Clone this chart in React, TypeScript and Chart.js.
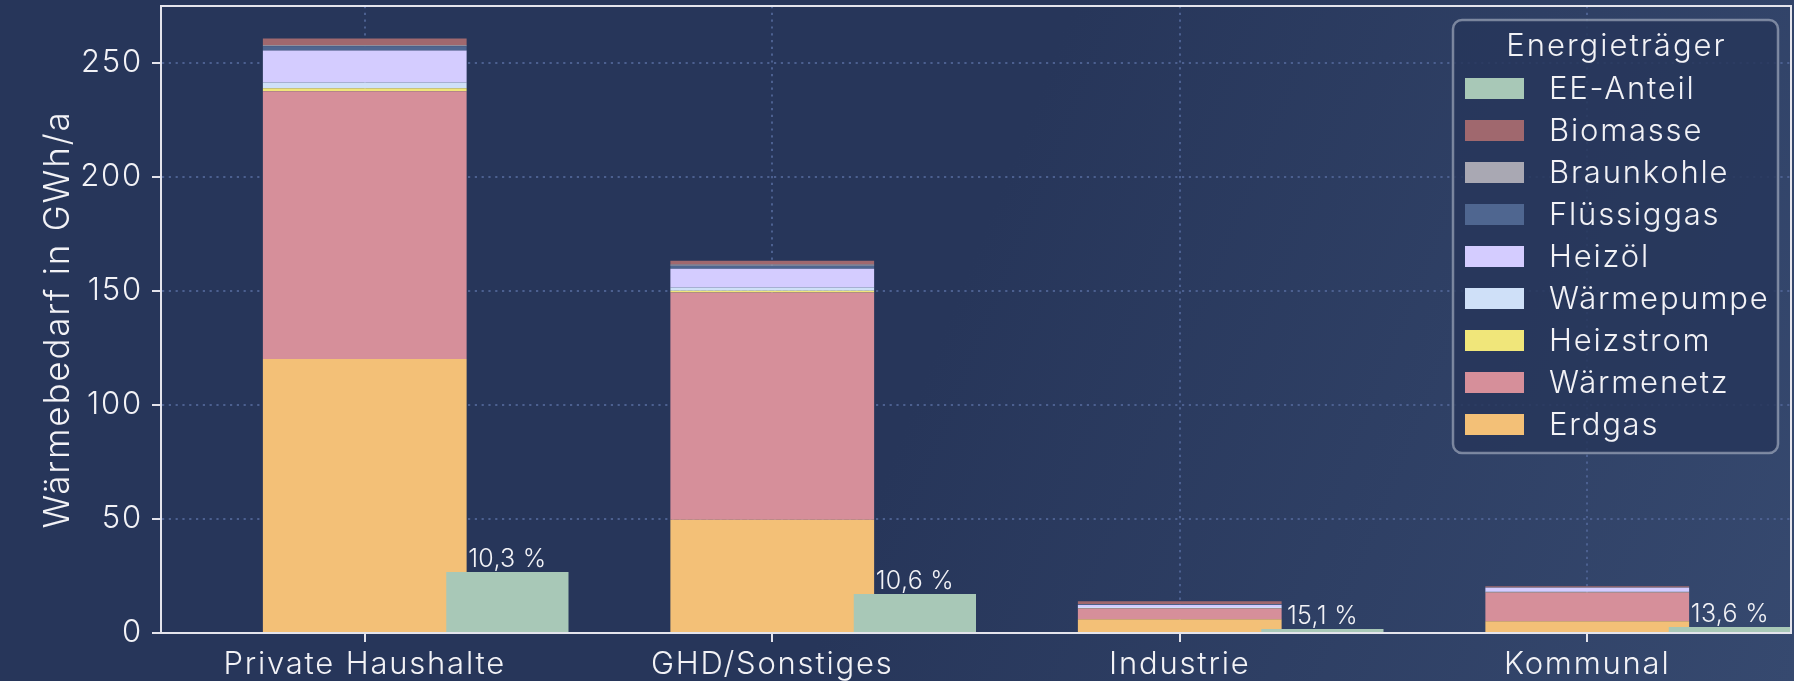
import React, { useEffect, useRef } from 'react';
import { Chart, registerables } from 'chart.js';

Chart.register(...registerables);

// ---- data ----
const categories = ['Private Haushalte', 'GHD/Sonstiges', 'Industrie', 'Kommunal'];
const erdgas = [120.2, 49.7, 6.0, 5.1];
const waermenetz = [117.4, 99.6, 4.8, 12.7];
const heizstrom = [1.3, 0.8, 0.1, 0.1];
const waermepumpe = [2.6, 1.4, 0.5, 0.2];
const heizoel = [14.0, 8.3, 0.9, 1.7];
const fluessiggas = [1.9, 1.3, 0.3, 0.1];
const braunkohle = [0.4, 0.5, 0.1, 0.1];
const biomasse = [3.0, 1.7, 1.2, 0.5];
const eeAnteil = [26.7, 17.1, 1.8, 2.6];
const eeShare = [10.3, 10.6, 15.1, 13.6];
const yTickValues = [0, 50, 100, 150, 200, 250];
const yTitle = 'Wärmebedarf in GWh/a';
const legendTitle = 'Energieträger';

// ---- styles ----
const FONT = 'Inter, "Noto Sans", sans-serif';
const TEXT = '#f2f2f6';
const AXIS = '#e4e4ec';
const GRID = '#4c6090';
const W = 1794;
const H = 720;
const PLOT_BOTTOM = 633;

const stackedSeries = [
  { label: 'Erdgas', data: erdgas, color: '#f3c077' },
  { label: 'Wärmenetz', data: waermenetz, color: '#d68f9a' },
  { label: 'Heizstrom', data: heizstrom, color: '#f0e67a' },
  { label: 'Wärmepumpe', data: waermepumpe, color: '#cfe0f8' },
  { label: 'Heizöl', data: heizoel, color: '#d4ccff' },
  { label: 'Flüssiggas', data: fluessiggas, color: '#4f6690' },
  { label: 'Braunkohle', data: braunkohle, color: '#a9a8b3' },
  { label: 'Biomasse', data: biomasse, color: '#a0686e' },
];
const eeSeries = { label: 'EE-Anteil', color: '#a8c8b7' };

const overlayPlugin = {
  id: 'overlay',
  beforeDraw(chart: any) {
    chart.ctx.letterSpacing = '1.8px';
  },
  afterDatasetsDraw(chart: any) {
    const { ctx, chartArea } = chart;
    // top and right frame lines
    ctx.save();
    ctx.strokeStyle = AXIS;
    ctx.lineWidth = 2;
    ctx.beginPath();
    ctx.moveTo(chartArea.left, chartArea.top);
    ctx.lineTo(chartArea.right, chartArea.top);
    ctx.lineTo(chartArea.right, chartArea.bottom);
    ctx.stroke();
    ctx.restore();

    // EE labels
    const meta = chart.getDatasetMeta(0);
    ctx.save();
    ctx.letterSpacing = '0.3px';
    ctx.fillStyle = TEXT;
    ctx.font = `300 25px ${FONT}`;
    ctx.textAlign = 'center';
    ctx.textBaseline = 'alphabetic';
    meta.data.forEach((el: any, i: number) => {
      const txt = eeShare[i].toFixed(1).replace('.', ',') + ' %';
      ctx.fillText(txt, el.x, el.y - 5);
    });
    ctx.restore();
  },
  afterDraw(chart: any) {
    const { ctx, chartArea } = chart;
    const ds = chart.data.datasets;
    const items = [ds[0], ...ds.slice(1).reverse()];
    const lw = 325;
    const lh = 433;
    const lx = chartArea.right - 13 - lw;
    const ly = chartArea.top + 14;
    ctx.save();
    ctx.beginPath();
    ctx.roundRect(lx, ly, lw, lh, 9);
    ctx.fillStyle = 'rgba(39, 54, 90, 0.85)';
    ctx.fill();
    ctx.lineWidth = 2.5;
    ctx.strokeStyle = 'rgba(190, 196, 212, 0.55)';
    ctx.stroke();

    ctx.letterSpacing = '2px';
    ctx.fillStyle = TEXT;
    ctx.font = `300 31px ${FONT}`;
    ctx.textAlign = 'center';
    ctx.textBaseline = 'middle';
    ctx.fillText(legendTitle, lx + lw / 2 + 1, ly + 27);

    ctx.letterSpacing = '1.8px';
    ctx.textAlign = 'left';
    items.forEach((d: any, k: number) => {
      const cy = ly + 68.5 + k * 42;
      ctx.fillStyle = d.backgroundColor;
      ctx.fillRect(lx + 12, cy - 10.5, 59, 21);
      ctx.fillStyle = TEXT;
      ctx.fillText(d.label, lx + 96, cy + 1);
    });
    ctx.restore();
  },
};

export default function App() {
  const ref = useRef<HTMLCanvasElement>(null);

  useEffect(() => {
    document.body.style.margin = '0';
    document.body.style.background = '#27365a';
    const canvas = ref.current!;
    const datasets: any[] = [
      {
        label: eeSeries.label,
        data: eeAnteil.map((v, i) => ({ x: i + 0.35, y: v })),
        backgroundColor: eeSeries.color,
        xAxisID: 'x2',
        stack: 'ee',
        grouped: false,
        barPercentage: 0.3,
        categoryPercentage: 1,
        borderWidth: 0,
      },
      ...stackedSeries.map((s) => ({
        label: s.label,
        data: s.data,
        backgroundColor: s.color,
        xAxisID: 'x',
        stack: 'main',
        grouped: false,
        barPercentage: 0.5,
        categoryPercentage: 1,
        borderWidth: 0,
      })),
    ];

    const chart = new Chart(canvas, {
      type: 'bar',
      data: { labels: categories, datasets },
      options: {
        animation: false,
        responsive: false,
        devicePixelRatio: 1,
        layout: { padding: { top: 6, right: 3, left: 0, bottom: 0 } },
        plugins: { legend: { display: false }, tooltip: { enabled: false } },
        scales: {
          x: {
            type: 'category',
            stacked: true,
            offset: true,
            grid: {
              offset: false,
              color: GRID,
              lineWidth: 2,
              tickLength: 9,
              tickColor: AXIS,
              tickWidth: 2,
            },
            border: { display: true, color: AXIS, width: 2, dash: [2.2, 4.6], z: 1 },
            ticks: {
              color: TEXT,
              font: { family: FONT, size: 31, weight: '300' },
              padding: 4,
              maxRotation: 0,
              autoSkip: false,
            },
            afterFit: (s: any) => {
              s.height = H - PLOT_BOTTOM;
              s.paddingLeft = 0;
              s.paddingRight = 0;
            },
          },
          x2: {
            type: 'linear',
            min: -0.5,
            max: 3.5,
            display: false,
            offset: false,
            afterBuildTicks: (s: any) => {
              s.ticks = categories.map((_, i) => ({ value: i }));
            },
          },
          y: {
            stacked: true,
            min: 0,
            max: 275,
            afterBuildTicks: (s: any) => {
              s.ticks = yTickValues.map((v) => ({ value: v }));
            },
            grid: {
              color: GRID,
              lineWidth: 2,
              tickLength: 9,
              tickColor: AXIS,
              tickWidth: 2,
            },
            border: { display: true, color: AXIS, width: 2, dash: [2.2, 4.6], z: 1 },
            ticks: {
              color: TEXT,
              font: { family: FONT, size: 31, weight: '300' },
              padding: 9,
            },
            title: {
              display: true,
              text: yTitle,
              color: TEXT,
              font: { family: FONT, size: 35, weight: '300' },
              padding: { top: 37, bottom: 0 },
            },
            afterFit: (s: any) => {
              s.width = 161;
              s.paddingTop = 0;
              s.paddingBottom = 0;
            },
          },
        },
      } as any,
      plugins: [overlayPlugin],
    });
    return () => chart.destroy();
  }, []);

  return (
    <div
      style={{
        width: W,
        height: 681,
        overflow: 'hidden',
        background: 'linear-gradient(112deg, #27365a 0%, #27365a 52%, #36496f 100%)',
      }}
    >
      <canvas ref={ref} width={W} height={H} style={{ display: 'block', width: W, height: H }} />
    </div>
  );
}
